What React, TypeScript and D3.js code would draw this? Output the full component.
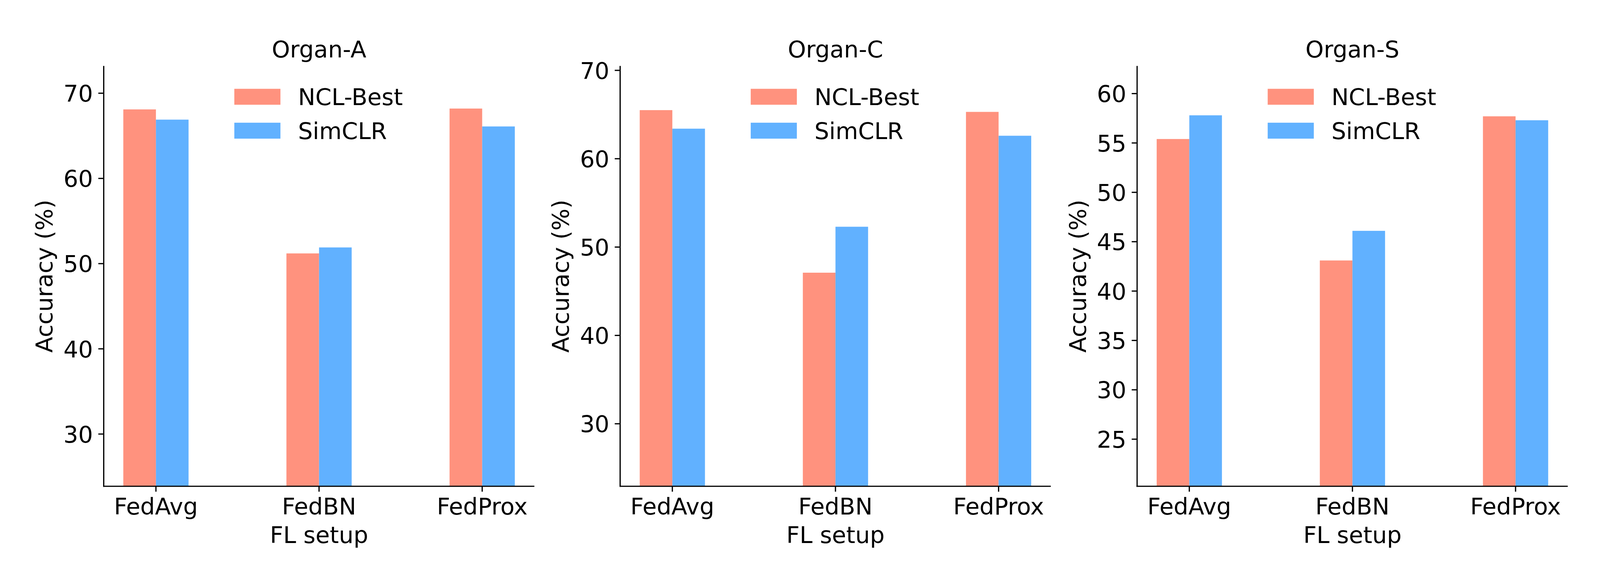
import React, { useEffect } from 'react';
import * as d3 from 'd3';

// FL setups on the x axis
const setups = ['FedAvg', 'FedBN', 'FedProx'];
const seriesNames = ['NCL-Best', 'SimCLR'];
const seriesColors = ['#ff927e', '#61b1ff'];

// accuracy (%) per organ, in setup order
const organA_ncl = [68.1, 51.2, 68.2];
const organA_simclr = [66.9, 51.9, 66.1];
const organC_ncl = [65.5, 47.1, 65.3];
const organC_simclr = [63.4, 52.3, 62.6];
const organS_ncl = [55.4, 43.1, 57.7];
const organS_simclr = [57.8, 46.1, 57.3];

const ticksA = [30, 40, 50, 60, 70];
const ticksC = [30, 40, 50, 60, 70];
const ticksS = [25, 30, 35, 40, 45, 50, 55, 60];

const panels = [
  { title: 'Organ-A', series: [organA_ncl, organA_simclr], ticks: ticksA },
  { title: 'Organ-C', series: [organC_ncl, organC_simclr], ticks: ticksC },
  { title: 'Organ-S', series: [organS_ncl, organS_simclr], ticks: ticksS },
];

const W = 4319;
const H = 1500;
const FONT = 'DejaVu Sans';
const FS = 62.5;
const panelLeft = [280, 1674, 3069.5];
const panelW = 1162.5;
const top = 178;
const bottom = 1312.5;
const barW = 0.2;
const tickLen = 14.6;
const lw = 3.3;

function Panel({ p, left }: { p: (typeof panels)[number]; left: number }) {
  const all = p.series.flat();
  const maxV = d3.max(all) as number;
  const y = d3.scaleLinear().domain([maxV * 0.35, maxV + 5]).range([bottom, top]);
  const span = setups.length - 1 + 2 * barW;
  const x = d3
    .scaleLinear()
    .domain([-barW - 0.05 * span, setups.length - 1 + barW + 0.05 * span])
    .range([left, left + panelW]);
  const capHalf = FS * 0.729 / 2;

  return (
    <g>
      {p.series.map((vals, si) =>
        vals.map((v, i) => {
          const x0 = x(i + (si === 0 ? -barW : 0));
          const x1 = x(i + (si === 0 ? 0 : barW));
          return (
            <rect
              key={`${si}-${i}`}
              x={x0}
              y={y(v)}
              width={x1 - x0}
              height={bottom - y(v)}
              fill={seriesColors[si]}
            />
          );
        })
      )}
      {/* spines */}
      <line x1={left} x2={left} y1={top} y2={bottom + lw / 2} stroke="#000" strokeWidth={lw} />
      <line x1={left - lw / 2} x2={left + panelW} y1={bottom} y2={bottom} stroke="#000" strokeWidth={lw} />
      {/* y ticks */}
      {p.ticks.map((t) => (
        <g key={t}>
          <line x1={left - tickLen} x2={left} y1={y(t)} y2={y(t)} stroke="#000" strokeWidth={lw} />
          <text
            x={left - tickLen - 14.4}
            y={y(t) + capHalf}
            textAnchor="end"
            fontFamily={FONT}
            fontSize={FS}
          >
            {t}
          </text>
        </g>
      ))}
      {/* x ticks */}
      {setups.map((s, i) => (
        <g key={s}>
          <line x1={x(i)} x2={x(i)} y1={bottom} y2={bottom + tickLen} stroke="#000" strokeWidth={lw} />
          <text x={x(i)} y={1389} textAnchor="middle" fontFamily={FONT} fontSize={FS}>
            {s}
          </text>
        </g>
      ))}
      <text x={left + panelW / 2} y={1465.5} textAnchor="middle" fontFamily={FONT} fontSize={FS}>
        FL setup
      </text>
      <text
        transform={`translate(${left - 138.3},${(top + bottom) / 2}) rotate(-90)`}
        textAnchor="middle"
        fontFamily={FONT}
        fontSize={FS}
      >
        Accuracy (%)
      </text>
      <text x={left + panelW / 2} y={155} textAnchor="middle" fontFamily={FONT} fontSize={FS}>
        {p.title}
      </text>
      {/* legend */}
      {seriesNames.map((n, si) => {
        const cy = top + 83.2 + si * 91.5;
        return (
          <g key={n}>
            <rect x={left + 352.5} y={cy - 21.5} width={124.5} height={43} fill={seriesColors[si]} />
            <text x={left + 524.5} y={cy + capHalf} fontFamily={FONT} fontSize={FS}>
              {n}
            </text>
          </g>
        );
      })}
    </g>
  );
}

export default function App() {
  useEffect(() => {
    document.body.style.margin = '0';
    document.body.style.overflow = 'hidden';
  }, []);
  return (
    <svg
      width="100%"
      viewBox={`0 0 ${W} ${H}`}
      preserveAspectRatio="xMinYMin meet"
      style={{ display: 'block', background: '#fff' }}
    >
      <rect width={W} height={H} fill="#fff" />
      {panels.map((p, k) => (
        <Panel key={p.title} p={p} left={panelLeft[k]} />
      ))}
    </svg>
  );
}
